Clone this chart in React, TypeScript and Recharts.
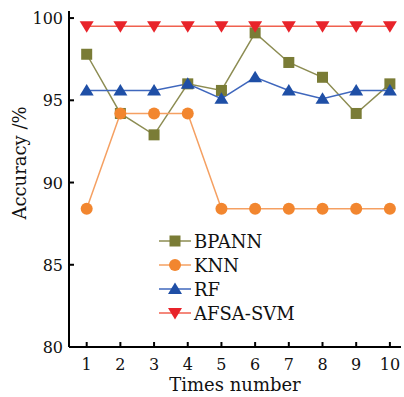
import { LineChart, Line, XAxis, YAxis, Legend } from "recharts";

const FONT = "DejaVu Serif";
const INK = "#111";

const times = [1, 2, 3, 4, 5, 6, 7, 8, 9, 10];
const bpann = [97.8, 94.2, 92.9, 96.0, 95.6, 99.1, 97.3, 96.4, 94.2, 96.0];
const knn = [88.4, 94.2, 94.2, 94.2, 88.4, 88.4, 88.4, 88.4, 88.4, 88.4];
const rf = [95.6, 95.6, 95.6, 96.0, 95.1, 96.4, 95.6, 95.1, 95.6, 95.6];
const afsaSvm = [99.5, 99.5, 99.5, 99.5, 99.5, 99.5, 99.5, 99.5, 99.5, 99.5];
const yTicks = [80, 85, 90, 95, 100];

const data = times.map((t, i) => ({
  t,
  BPANN: bpann[i],
  KNN: knn[i],
  RF: rf[i],
  "AFSA-SVM": afsaSvm[i],
}));

type Kind = "square" | "circle" | "up" | "down";

const SERIES: { key: string; line: string; fill: string; kind: Kind }[] = [
  { key: "BPANN", line: "#8c8c52", fill: "#7a7c36", kind: "square" },
  { key: "KNN", line: "#f5a062", fill: "#f2862f", kind: "circle" },
  { key: "RF", line: "#3f67bd", fill: "#1f4fa6", kind: "up" },
  { key: "AFSA-SVM", line: "#f0614f", fill: "#e8232a", kind: "down" },
];

function Marker({ cx, cy, kind, fill }: { cx: number; cy: number; kind: Kind; fill: string }) {
  if (kind === "square") {
    return <rect x={cx - 5.5} y={cy - 5.5} width={11} height={11} fill={fill} />;
  }
  if (kind === "circle") {
    return <circle cx={cx} cy={cy} r={6} fill={fill} />;
  }
  if (kind === "up") {
    return <polygon points={`${cx},${cy - 6.5} ${cx + 7},${cy + 5} ${cx - 7},${cy + 5}`} fill={fill} />;
  }
  return <polygon points={`${cx},${cy + 6.5} ${cx + 7},${cy - 5} ${cx - 7},${cy - 5}`} fill={fill} />;
}

function YTick(props: any) {
  const { x, y, payload } = props;
  return (
    <g>
      <line x1={x} y1={y} x2={x + 5} y2={y} stroke="#000" strokeWidth={2} />
      <text x={x - 6} y={y + 6} textAnchor="end" fontFamily={FONT} fontSize={16} fill={INK}>
        {payload.value}
      </text>
    </g>
  );
}

function XTick(props: any) {
  const { x, y, payload } = props;
  return (
    <g>
      <line x1={x} y1={y} x2={x} y2={y - 5} stroke="#000" strokeWidth={2} />
      <text x={x} y={y + 23} textAnchor="middle" fontFamily={FONT} fontSize={16} fill={INK}>
        {payload.value}
      </text>
    </g>
  );
}

function LegendBox() {
  return (
    <div style={{ fontFamily: FONT, fontSize: 18, color: INK }}>
      {SERIES.map((s) => (
        <div key={s.key} style={{ display: "flex", alignItems: "center", height: 24 }}>
          <svg width={36} height={16}>
            <line x1={1} y1={8} x2={33} y2={8} stroke={s.line} strokeWidth={1.5} />
            <Marker cx={17} cy={8} kind={s.kind} fill={s.fill} />
          </svg>
          <span>{s.key}</span>
        </div>
      ))}
    </div>
  );
}

export default function App() {
  return (
    <div style={{ position: "absolute", left: 0, top: 0, width: 404, height: 397, background: "#fff" }}>
      <LineChart width={404} height={397} data={data} margin={{ top: 11, right: 3, bottom: 0, left: 0 }}>
        <XAxis
          dataKey="t"
          type="number"
          domain={[0.475, 10.33]}
          ticks={times}
          allowDataOverflow
          height={50}
          tickSize={0}
          tickMargin={0}
          tick={<XTick />}
          axisLine={{ stroke: "#000", strokeWidth: 2 }}
          label={{
            content: () => (
              <text x={235} y={391} textAnchor="middle" fontFamily={FONT} fontSize={18} fill={INK}>
                Times number
              </text>
            ),
          }}
        />
        <XAxis
          xAxisId="top"
          dataKey="t"
          type="number"
          domain={[0.475, 10.33]}
          orientation="top"
          height={0}
          tick={false}
          tickLine={false}
          axisLine={{ stroke: "#000", strokeWidth: 2 }}
        />
        <YAxis
          type="number"
          domain={[80, 100.43]}
          ticks={yTicks}
          allowDataOverflow
          width={69}
          tickSize={0}
          tickMargin={0}
          tick={<YTick />}
          axisLine={{ stroke: "#000", strokeWidth: 2 }}
          label={{
            content: () => (
              <text
                transform="translate(26,163) rotate(-90)"
                textAnchor="middle"
                fontFamily={FONT}
                fontSize={18}
                fill={INK}
              >
                Accuracy /%
              </text>
            ),
          }}
        />
        <Legend
          layout="vertical"
          align="center"
          verticalAlign="middle"
          content={() => <LegendBox />}
          wrapperStyle={{ position: "absolute", left: 158, top: 229, width: "auto" }}
        />
        {SERIES.map((s) => (
          <Line
            key={s.key}
            dataKey={s.key}
            stroke={s.line}
            strokeWidth={1.5}
            isAnimationActive={false}
            dot={(p: any) => <Marker key={`${s.key}-${p.index}`} cx={p.cx} cy={p.cy} kind={s.kind} fill={s.fill} />}
            activeDot={false}
          />
        ))}
      </LineChart>
    </div>
  );
}
